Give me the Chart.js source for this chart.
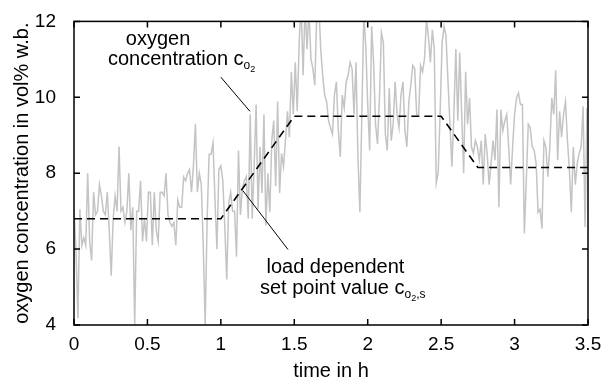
<!DOCTYPE html>
<html lang="en">
<head>
<meta charset="UTF-8">
<title>Oxygen concentration</title>
<script src="https://cdn.jsdelivr.net/npm/chart.js@4.4.1/dist/chart.umd.min.js"></script>
<style>
  html, body { margin: 0; padding: 0; background: #fff; }
</style>
</head>
<body>
<canvas id="chart" width="615" height="383"></canvas>
<script>
// measured oxygen concentration, one reading every 1/75 h
const sampleStep = 1 / 75;
const measured = [
  7.05, 6.0, 4.17, 7.05, 6.1, 6.3, 6.1, 8.0, 6.2, 5.7,
  7.5, 6.9, 7.0, 7.7, 7.4, 7.0, 6.9, 7.5, 6.5, 5.3,
  6.8, 7.4, 7.0, 8.7, 7.0, 7.1, 6.7, 7.0, 8.0, 6.5,
  7.1, 4.0, 7.0, 7.0, 7.8, 6.2, 6.8, 6.2, 7.5, 7.5,
  6.1, 7.5, 6.5, 6.2, 7.5, 7.5, 7.4, 8.0, 6.9, 6.7,
  6.6, 6.7, 6.1, 7.3, 7.1, 7.1, 7.9, 7.8, 8.0, 8.1,
  7.5, 8.2, 9.3, 7.5, 8.0, 7.7, 6.1, 4.0, 6.8, 8.5,
  8.5, 8.8, 7.3, 6.0, 8.1, 8.2, 7.8, 6.6, 5.2, 7.2,
  7.5, 7.0, 7.0, 5.8, 8.6, 6.9, 7.6, 7.8,
  7.91, 6.80, 9.55, 6.80, 8.17, 9.81, 7.05, 8.69, 7.48, 9.55,
  6.62, 8.0, 6.97, 8.86, 9.38, 7.66, 9.89, 7.48, 8.52, 8.17,
  8.86, 9.63, 8.95, 10.67, 9.55, 10.92, 9.63, 11.44, 12.5, 10.58,
  12.4, 11.27, 12.3, 11.01, 10.75, 10.32, 12.3, 12.5, 11.27, 10.58,
  10.06, 9.89, 9.38, 9.20, 9.03, 10.06, 10.41, 9.12, 8.43, 10.06,
  9.72, 10.41, 10.58, 10.92, 10.75, 9.55, 10.92, 8.43, 6.97, 9.55,
  12.2, 11.35, 9.81, 8.60, 11.87, 10.92, 9.29, 8.77, 9.98, 11.70,
  11.44, 9.03, 8.60, 10.24, 8.86, 9.29, 10.41, 9.55, 9.20, 10.06,
  10.41, 9.12, 8.69, 9.89, 10.32, 10.84, 10.75, 9.55,
  9.55, 10.84, 10.67, 11.01, 12.04, 11.61, 10.92, 11.78, 11.27, 7.74,
  8.0, 9.63, 11.44, 11.87, 11.61, 10.41, 9.29, 8.17, 9.55, 11.27,
  9.38, 11.18, 9.55, 8.0, 10.67, 9.29, 9.98, 8.69, 8.52, 8.86,
  8.69, 8.34, 8.86, 7.70, 9.03, 8.52, 7.70, 8.26, 8.86, 8.34,
  9.68, 7.10, 9.68, 9.12, 9.38, 9.55, 8.69, 7.70, 8.69, 9.55,
  9.98, 10.11, 9.81, 9.81, 6.41, 7.83, 9.29, 9.20, 8.69, 8.60,
  8.26, 6.97, 7.05, 6.54, 8.86, 8.69, 7.91, 8.69, 9.98, 9.55,
  10.71, 8.34, 9.63, 8.95, 9.55, 9.89, 8.86, 8.09, 6.97, 8.69,
  7.70, 8.26, 8.52, 8.69, 9.76, 6.58, 9.72
];

// load dependent set point
const setTimes = [0, 1, 1.5, 2.5, 2.75, 3.5];
const setValues = [6.8, 6.8, 9.5, 9.5, 8.15, 8.15];

const xTicks = [0, 0.5, 1, 1.5, 2, 2.5, 3, 3.5];
const yTicks = [4, 6, 8, 10, 12];

const fontFamily = '"Liberation Sans", Arial, Helvetica, sans-serif';
const tickSize = 19;
const textSize = 20;

const measuredPoints = measured.map((v, i) => ({ x: i * sampleStep, y: v }));
const setPoints = setTimes.map((t, i) => ({ x: t, y: setValues[i] }));

// text with subscripts
function drawLabel(ctx, x, y, parts) {
  let px = x;
  parts.forEach(p => {
    ctx.font = p.size + 'px ' + fontFamily;
    ctx.fillText(p.text, px, y + (p.shift || 0));
    px += ctx.measureText(p.text).width;
  });
}

const framePlugin = {
  id: 'frame',
  afterDatasetsDraw(chart) {
    const { ctx, chartArea: a, scales: { x, y } } = chart;
    ctx.save();
    ctx.strokeStyle = '#000';
    ctx.lineWidth = 1.5;
    ctx.strokeRect(a.left, a.top, a.right - a.left, a.bottom - a.top);
    ctx.beginPath();
    xTicks.forEach(t => {
      const px = x.getPixelForValue(t);
      ctx.moveTo(px, a.bottom); ctx.lineTo(px, a.bottom - 6);
      ctx.moveTo(px, a.top); ctx.lineTo(px, a.top + 6);
    });
    yTicks.forEach(t => {
      const py = y.getPixelForValue(t);
      ctx.moveTo(a.left, py); ctx.lineTo(a.left + 6, py);
      ctx.moveTo(a.right, py); ctx.lineTo(a.right - 6, py);
    });
    ctx.stroke();

    // leader lines
    ctx.lineWidth = 1;
    ctx.beginPath();
    ctx.moveTo(x.getPixelForValue(1.0), y.getPixelForValue(10.53));
    ctx.lineTo(x.getPixelForValue(1.198), y.getPixelForValue(9.63));
    ctx.moveTo(x.getPixelForValue(1.15), y.getPixelForValue(7.54));
    ctx.lineTo(x.getPixelForValue(1.457), y.getPixelForValue(5.99));
    ctx.stroke();

    ctx.fillStyle = '#000';
    ctx.textBaseline = 'alphabetic';
    ctx.textAlign = 'center';
    ctx.font = textSize + 'px ' + fontFamily;
    ctx.fillText('oxygen', x.getPixelForValue(0.572), y.getPixelForValue(11.38));
    ctx.fillText('load dependent', x.getPixelForValue(1.78), y.getPixelForValue(5.38));
    ctx.textAlign = 'left';
    drawLabel(ctx, x.getPixelForValue(0.231), y.getPixelForValue(10.84), [
      { text: 'concentration c', size: textSize },
      { text: 'o', size: 12, shift: 4 },
      { text: '2', size: 9, shift: 7 }
    ]);
    drawLabel(ctx, x.getPixelForValue(1.266), y.getPixelForValue(4.83), [
      { text: 'set point value c', size: textSize },
      { text: 'o', size: 12, shift: 4 },
      { text: '2', size: 9, shift: 7 },
      { text: ',s', size: 12, shift: 4 }
    ]);
    ctx.restore();
  }
};

new Chart(document.getElementById('chart'), {
  type: 'line',
  data: {
    datasets: [{
      label: 'set point',
      data: setPoints,
      borderColor: '#000',
      borderWidth: 1.6,
      borderDash: [8, 5],
      pointRadius: 0,
      tension: 0,
      order: 0
    }, {
      label: 'oxygen concentration',
      data: measuredPoints,
      borderColor: '#c4c4c4',
      borderWidth: 1.5,
      pointRadius: 0,
      tension: 0,
      order: 1
    }]
  },
  options: {
    responsive: false,
    animation: false,
    devicePixelRatio: 1,
    layout: { padding: { top: 15, right: 27, left: 0, bottom: 0 } },
    plugins: {
      legend: { display: false },
      tooltip: { enabled: false }
    },
    scales: {
      x: {
        type: 'linear',
        min: 0,
        max: 3.5,
        afterBuildTicks: s => { s.ticks = xTicks.map(v => ({ value: v })); },
        afterFit: s => { s.height = 58; },
        grid: { display: false },
        border: { display: false },
        ticks: {
          color: '#000',
          padding: 0,
          maxRotation: 0,
          callback: v => String(v),
          font: { family: fontFamily, size: tickSize }
        },
        title: {
          display: true,
          text: 'time in h',
          color: '#000',
          padding: { top: 0, bottom: 0 },
          font: { family: fontFamily, size: textSize }
        }
      },
      y: {
        min: 4,
        max: 12,
        afterBuildTicks: s => { s.ticks = yTicks.map(v => ({ value: v })); },
        afterFit: s => { s.width = 74; },
        grid: { display: false },
        border: { display: false },
        ticks: {
          color: '#000',
          padding: 10,
          callback: v => String(v),
          font: { family: fontFamily, size: tickSize }
        },
        title: {
          display: true,
          text: 'oxygen concentration in vol% w.b.',
          color: '#000',
          padding: { top: 10, bottom: 0 },
          font: { family: fontFamily, size: textSize }
        }
      }
    }
  },
  plugins: [framePlugin]
});
</script>
</body>
</html>
